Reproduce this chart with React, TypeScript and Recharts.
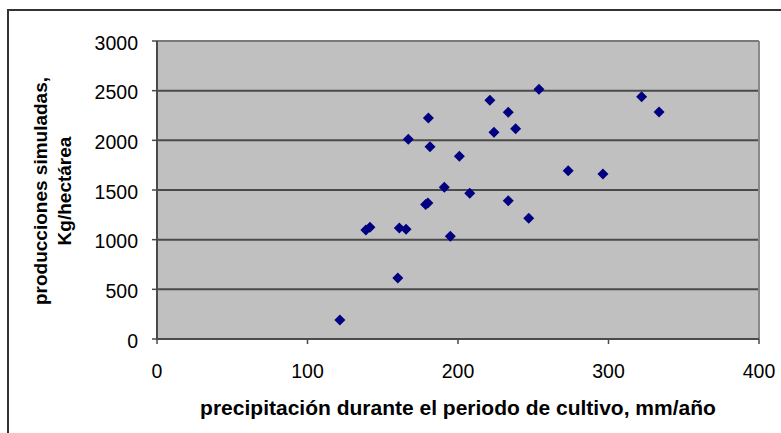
import React from 'react';
import { ScatterChart, Scatter, XAxis, YAxis, CartesianGrid, ReferenceLine } from 'recharts';

const precipitation = [121.5, 138.8, 141.5, 160, 161, 165.5, 167, 178.5, 180, 180.3, 181.4, 190.9, 194.9, 200.9, 207.8, 221.2, 223.9, 233.4, 233.4, 238.3, 247, 253.8, 273.2, 296.3, 322, 333.6];
const production = [191, 1097, 1124, 614, 1117, 1104, 2010, 1355, 1370, 2225, 1936, 1527, 1035, 1839, 1467, 2403, 2081, 2282, 1392, 2117, 1215, 2514, 1694, 1661, 2439, 2285];
const xTicks = [0, 100, 200, 300, 400];
const yTicks = [0, 500, 1000, 1500, 2000, 2500, 3000];
const xTitle = 'precipitación durante el periodo de cultivo, mm/año';
const yTitleLines = ['producciones simuladas,', 'Kg/hectárea'];

const data = precipitation.map((x, i) => ({ x, y: production[i] }));

const FONT = '"Liberation Sans", Arial, sans-serif';

const Diamond = (props: any) => {
  const { cx, cy } = props;
  const r = 5.5;
  return <path d={`M${cx},${cy - r}L${cx + r},${cy}L${cx},${cy + r}L${cx - r},${cy}Z`} fill="#000080" />;
};

const YTick = (props: any) => {
  const { x, y, payload } = props;
  return (
    <text x={x} y={y + 8.5} textAnchor="end" fontSize={19.5} fontFamily={FONT} fill="#000">
      {payload.value}
    </text>
  );
};

const XTick = (props: any) => {
  const { x, y, payload } = props;
  return (
    <text x={x} y={y + 13.5} textAnchor="middle" fontSize={19.5} fontFamily={FONT} fill="#000">
      {payload.value}
    </text>
  );
};

const XTitle = (props: any) => {
  const vb = props.viewBox;
  return (
    <text x={vb.x + vb.width / 2} y={vb.y + 76} textAnchor="middle" fontSize={21} fontWeight="bold" fontFamily={FONT} fill="#000">
      {xTitle}
    </text>
  );
};

const YTitle = (props: any) => {
  const vb = props.viewBox;
  const cy = vb.y + vb.height / 2 + 1;
  const xs = [39, 63];
  return (
    <g>
      {yTitleLines.map((t, i) => (
        <text key={i} x={xs[i]} y={cy} transform={`rotate(-90 ${xs[i]} ${cy})`} textAnchor="middle" fontSize={19} fontWeight="bold" fontFamily={FONT} fill="#000">
          {t}
        </text>
      ))}
    </g>
  );
};

export default function App() {
  return (
    <div style={{ position: 'absolute', left: 0, top: 0, width: 781, height: 433, overflow: 'hidden' }}>
      <div style={{ position: 'absolute', left: 7, top: 9, width: 780, height: 430, borderTop: '2px solid #333', borderLeft: '2px solid #333', boxSizing: 'border-box' }} />
      <div style={{ position: 'absolute', left: 8, top: 8 }}>
        <ScatterChart width={773} height={425} margin={{ top: 33, right: 22, left: 0, bottom: 0 }}>
          <CartesianGrid vertical={false} fill="#C0C0C0" stroke="#4a4a4a" strokeWidth={2} />
          <XAxis
            type="number"
            dataKey="x"
            domain={[0, 400]}
            ticks={xTicks}
            interval={0}
            height={94}
            axisLine={{ stroke: '#4a4a4a', strokeWidth: 2 }}
            tickLine={{ stroke: '#4a4a4a', strokeWidth: 1.5 }}
            tickSize={5}
            tickMargin={20}
            tick={<XTick />}
            label={<XTitle />}
          />
          <YAxis
            type="number"
            dataKey="y"
            domain={[0, 3000]}
            ticks={yTicks}
            interval={0}
            width={149}
            axisLine={{ stroke: '#4a4a4a', strokeWidth: 2 }}
            tickLine={{ stroke: '#4a4a4a', strokeWidth: 1.5 }}
            tickSize={5}
            tickMargin={14}
            tick={<YTick />}
            label={<YTitle />}
          />
          <ReferenceLine y={3000} stroke="#7a7a7a" strokeWidth={2} />
          <ReferenceLine x={400} stroke="#8a8a8a" strokeWidth={2} />
          <Scatter data={data} shape={<Diamond />} isAnimationActive={false} />
        </ScatterChart>
      </div>
    </div>
  );
}
